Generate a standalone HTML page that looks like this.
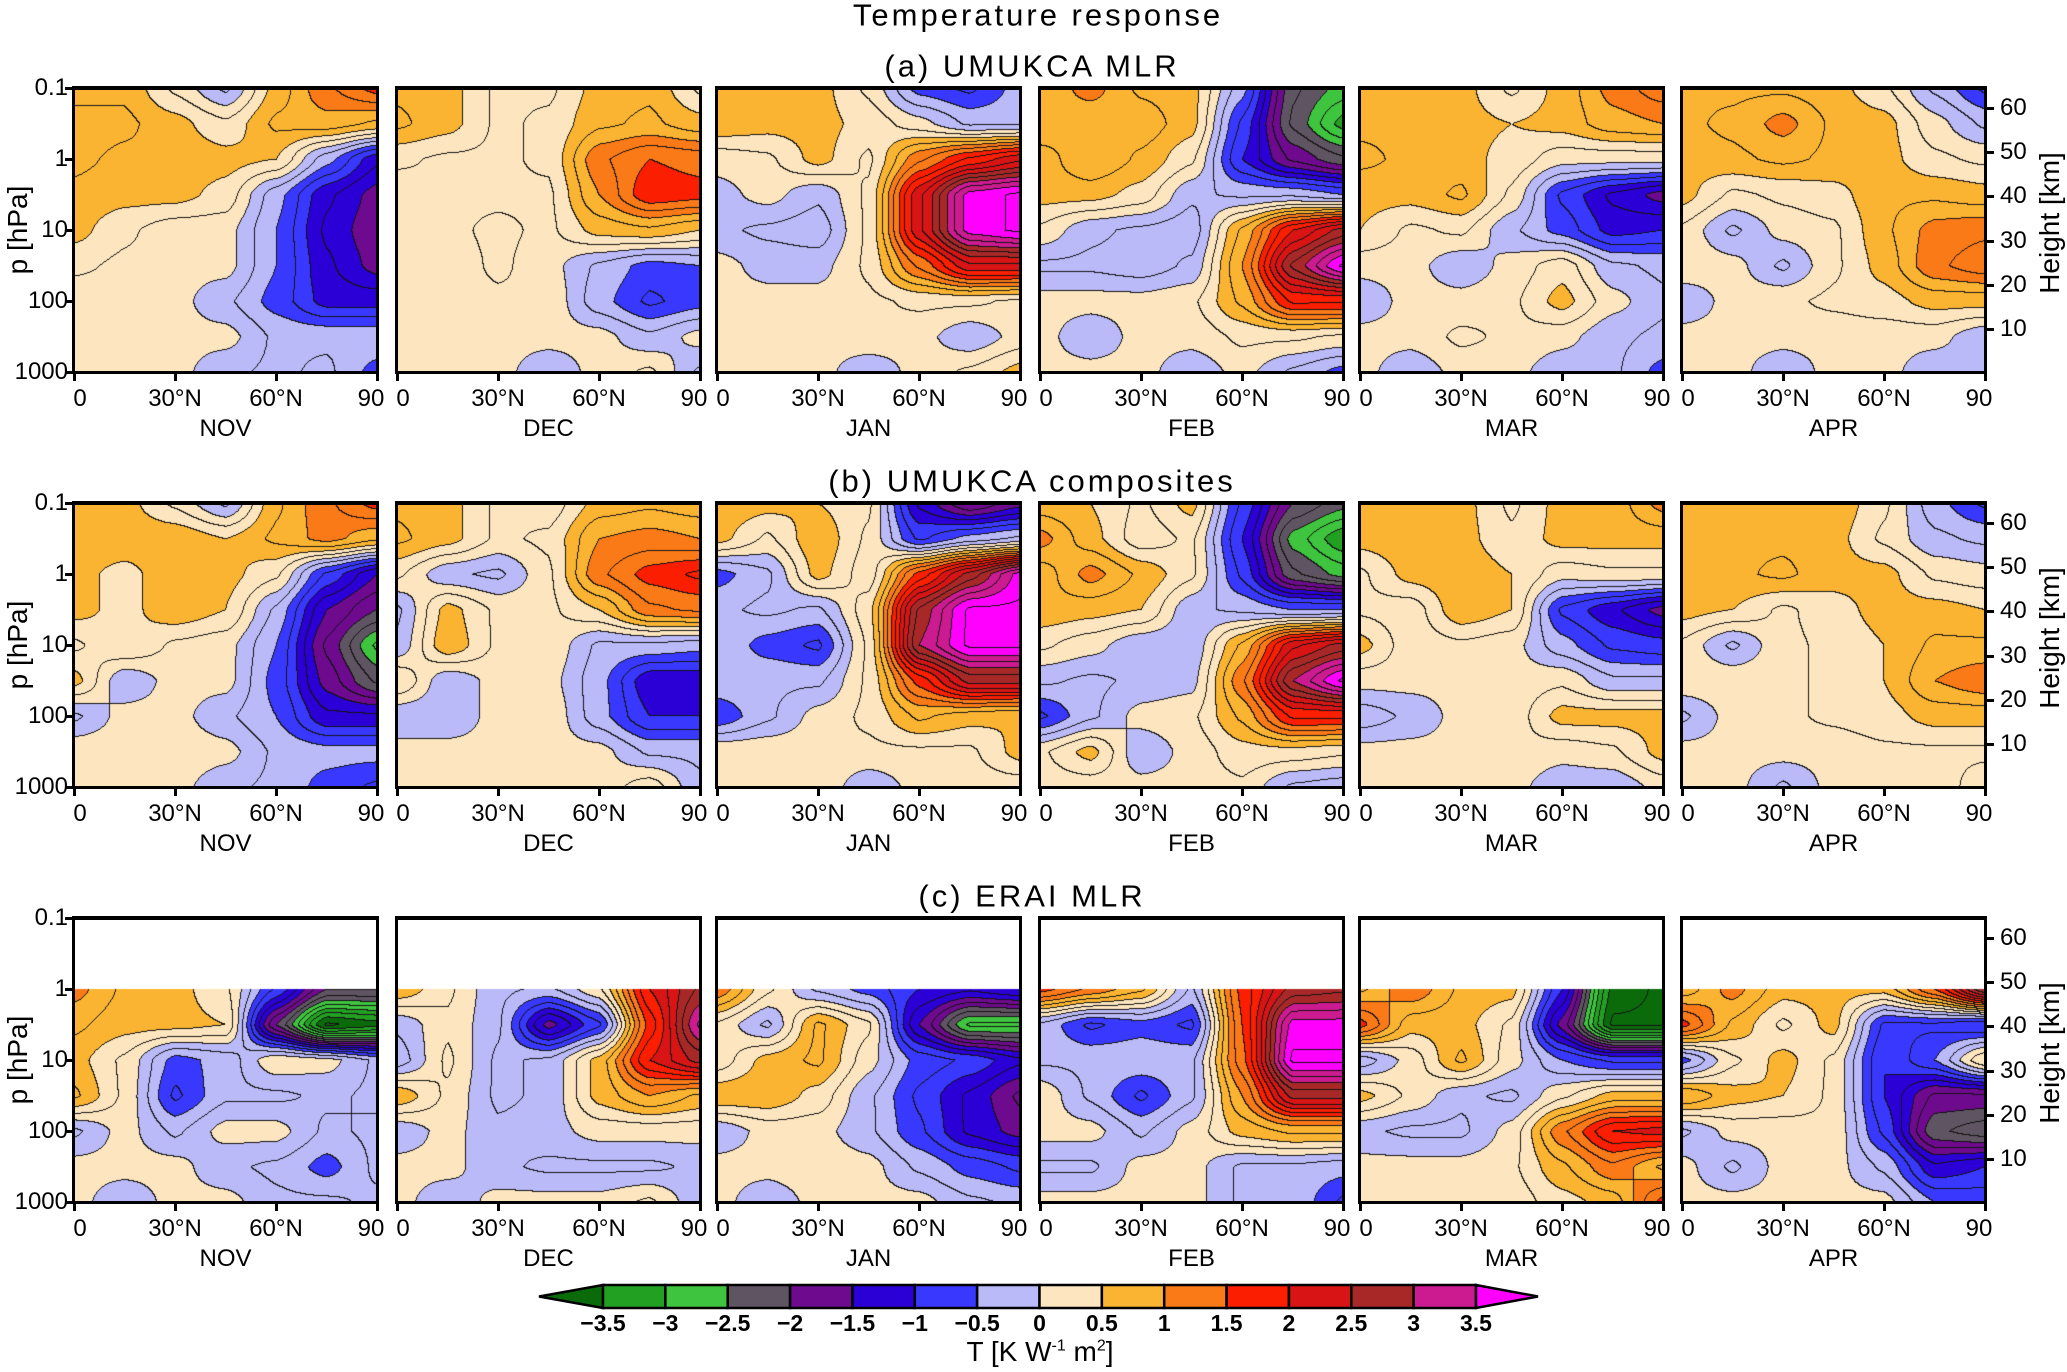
<!DOCTYPE html>
<html><head><meta charset="utf-8">
<style>
html,body{margin:0;padding:0;background:#fff;}
body{width:2067px;height:1372px;position:relative;overflow:hidden;font-family:"Liberation Sans",sans-serif;color:#000;}
.t{position:absolute;white-space:nowrap;line-height:1;}
canvas{position:absolute;}
.frame{position:absolute;border:3px solid #000;border-top-width:4px;box-sizing:border-box;}
.tick{position:absolute;background:#000;}
</style></head>
<body>
<div class="t" style="left:1038px;top:15px;transform:translate(-50%,-50%);font-size:31px;letter-spacing:3px;">Temperature response</div>
<div id="root"></div>
<svg id="cbar" width="2067" height="1372" style="position:absolute;left:0;top:0;pointer-events:none;"></svg>
<script>
// ---- data: 9 pressure rows (0.1..1000 hPa, half-decades) x 7 latitudes (0..90 N) ----
const months = ["NOV","DEC","JAN","FEB","MAR","APR"];
const rowTitles = ["(a) UMUKCA MLR","(b) UMUKCA composites","(c) ERAI MLR"];
const latitudes = [0,15,30,45,60,75,90];
const logPressures = [-1,-0.5,0,0.5,1,1.5,2,2.5,3];
const levels = [-3.5,-3,-2.5,-2,-1.5,-1,-0.5,0,0.5,1,1.5,2,2.5,3,3.5];
const levelColors = ["#0b6b0b","#22a022","#3ec43e","#5f5462","#6e0a8e","#2b00d6","#3838ff","#babaf8","#fde6bf","#fbb432","#fb7a18","#fb1e00","#d81414","#a82828","#cc1a90","#ff00ff"];
const leftTicks = ["0.1","1","10","100","1000"];
const heightTicks = [60,50,40,30,20,10];
const xTicks = ["0","30°N","60°N","90"];

const aNOV=[[0.6,0.7,0.2,-0.3,0.6,1.2,1.6],[0.9,0.8,0.6,0.3,0.8,0.9,0.7],[0.8,0.7,0.7,0.6,0.5,-0.4,-1.2],[0.7,0.6,0.6,0.4,-0.4,-1.2,-1.6],[0.6,0.3,0.1,0.1,-0.5,-1.3,-1.7],[0.3,0.2,0.1,0.1,-0.5,-1.2,-1.6],[0.1,0.1,0.1,-0.2,-0.6,-1.1,-1.1],[0.2,0.2,0.1,0.1,-0.3,-0.3,-0.3],[0.1,0.1,0.1,-0.2,-0.3,-0.2,-0.6]];
const aDEC=[[0.7,0.6,0.2,0.2,0.6,0.7,0.2],[0.8,0.6,0.2,0.3,0.7,0.8,0.6],[0.3,0.2,0.2,0.3,1.2,1.5,1.4],[0.1,0.2,0.2,0.2,1.0,1.7,1.6],[0.1,0.2,0.3,0.2,0.6,0.7,0.5],[0.1,0.1,0.3,0.1,-0.3,-0.6,-0.5],[0.1,0.1,0.2,0.2,-0.4,-0.8,-0.6],[0.1,0.1,0.1,0.1,0.1,-0.2,0.1],[0.1,0.1,0.1,-0.2,0.1,0.3,-0.3]];
const aJAN=[[0.7,0.7,0.6,0.2,-0.6,-0.8,-0.4],[0.7,0.6,0.6,0.4,0.1,-0.3,-0.3],[0.1,0.2,0.6,0.2,1.2,1.8,2.2],[-0.1,0.1,-0.2,0.3,2.2,3.6,3.8],[-0.2,-0.3,-0.4,0.3,2.2,3.6,3.8],[0.1,-0.1,-0.1,0.3,1.3,2.2,2.2],[0.1,0.1,0.1,0.2,0.3,0.3,0.2],[0.1,0.1,0.1,0.2,0.1,-0.2,0.1],[0.1,0.1,0.1,-0.2,0.1,0.3,0.6]];
const aFEB=[[0.8,1.1,0.7,0.6,-0.4,-2.2,-2.6],[1.0,0.8,0.9,0.6,-0.8,-2.3,-3.1],[0.6,1.0,0.7,0.3,-1.0,-1.8,-2.2],[0.6,0.6,0.4,-0.2,-0.3,-0.3,-0.5],[0.2,-0.2,-0.3,-0.4,0.8,2.0,2.6],[-0.3,-0.3,-0.4,-0.2,1.0,2.8,3.8],[0.1,0.1,0.1,0.2,0.8,1.8,1.8],[0.1,-0.2,0.1,0.1,0.3,0.3,0.2],[0.1,0.1,0.1,-0.2,0.1,-0.3,-0.6]];
const aMAR=[[0.6,0.6,0.6,0.2,0.6,1.1,1.4],[0.7,0.7,0.6,0.5,0.6,0.9,1.0],[0.8,0.7,0.6,0.4,0.1,0.1,0.1],[0.6,0.6,0.8,0.2,-0.8,-1.3,-1.6],[0.5,0.2,0.3,-0.2,-0.6,-1.1,-1.0],[0.1,0.1,-0.2,0.1,0.4,-0.2,-0.3],[-0.2,0.1,0.1,0.2,0.6,0.1,-0.2],[0.1,0.1,0.3,0.2,0.1,-0.2,-0.3],[0.1,-0.2,0.1,0.1,-0.2,-0.2,-0.6]];
const aAPR=[[0.7,0.7,0.7,0.6,0.3,-0.3,-0.8],[0.7,0.8,1.1,0.7,0.6,0.1,-0.3],[0.6,0.7,0.8,0.7,0.6,0.3,0.2],[0.6,0.2,0.3,0.4,0.7,0.7,0.6],[0.2,-0.3,0.1,0.2,0.7,1.1,1.2],[0.2,0.1,-0.3,0.2,0.6,1.2,1.4],[-0.2,0.1,0.2,0.3,0.4,0.6,0.6],[0.1,0.1,0.1,0.1,0.1,0.1,-0.2],[0.1,0.1,-0.2,0.1,0.1,-0.2,-0.2]];

const bNOV=[[0.6,0.6,0.2,-0.3,0.7,1.2,1.6],[0.7,0.7,0.7,0.5,0.8,1.1,0.8],[0.6,0.4,0.7,0.6,0.3,-0.8,-1.5],[0.6,0.4,0.7,0.5,-0.3,-1.5,-2.0],[0.2,0.5,0.2,0.1,-0.5,-1.8,-2.8],[0.6,-0.2,0.1,0.1,-0.6,-1.6,-2.3],[-0.3,0.1,0.1,-0.2,-0.5,-1.2,-1.2],[0.2,0.2,0.2,0.1,-0.3,-0.4,-0.4],[0.1,0.1,0.1,-0.2,-0.3,-0.6,-0.8]];
const bDEC=[[0.7,0.6,0.2,0.1,0.6,0.7,0.6],[0.8,0.6,0.2,0.3,1.0,1.1,1.0],[0.3,-0.2,-0.3,0.2,1.2,1.6,1.8],[-0.3,0.6,0.2,0.2,0.5,1.2,1.3],[-0.2,0.7,0.2,0.2,-0.3,-0.3,-0.4],[0.5,-0.2,0.1,0.1,-0.4,-1.2,-1.2],[-0.2,-0.2,0.1,0.2,-0.4,-1.0,-1.0],[0.1,0.1,0.1,0.1,0.1,-0.3,-0.3],[0.1,0.1,0.1,0.1,0.1,0.4,-0.2]];
const bJAN=[[0.7,0.6,0.5,0.3,-1.3,-2.0,-1.6],[0.6,0.2,0.7,0.2,-0.8,-0.4,-0.2],[-0.6,-0.3,0.6,0.1,1.6,2.6,3.6],[-0.3,-0.2,-0.3,0.4,2.8,3.8,3.8],[-0.3,-0.6,-0.8,0.3,3.0,3.8,3.8],[-0.3,-0.3,-0.3,0.3,1.6,2.6,2.6],[-0.7,-0.3,0.1,0.3,0.8,0.6,0.5],[0.2,0.2,0.2,0.2,0.2,0.2,0.6],[0.1,0.1,0.2,-0.2,0.1,0.1,0.1]];
const bFEB=[[0.6,0.5,0.2,0.6,-0.8,-2.0,-2.4],[1.1,0.6,0.1,0.3,-1.0,-2.6,-3.2],[0.6,1.1,0.7,0.3,-0.8,-2.2,-2.6],[0.7,0.6,0.5,-0.2,-0.3,-0.5,-0.5],[0.3,0.1,-0.2,-0.2,0.8,2.2,2.6],[-0.2,-0.3,-0.2,-0.1,1.2,3.0,3.8],[-0.8,-0.3,0.1,0.2,0.8,1.8,1.8],[0.2,0.6,-0.2,0.1,0.4,0.4,0.3],[0.1,0.1,0.1,0.1,0.2,-0.3,-0.4]];
const bMAR=[[0.7,0.6,0.6,0.2,0.6,0.6,1.1],[0.6,0.7,0.6,0.3,0.6,0.6,0.6],[0.2,0.6,0.7,0.5,0.1,0.2,0.2],[0.2,0.1,0.7,0.5,-0.8,-1.2,-1.6],[0.6,0.1,0.2,0.1,-0.4,-0.8,-0.9],[0.1,0.1,0.1,0.1,0.2,-0.2,-0.2],[-0.4,-0.2,0.1,0.1,0.6,0.6,0.6],[0.1,0.1,0.1,0.2,0.1,0.2,0.6],[0.1,0.1,0.1,0.1,-0.2,-0.2,0.1]];
const bAPR=[[0.6,0.7,0.7,0.7,0.3,-0.4,-0.8],[0.6,0.7,0.7,0.6,0.2,-0.2,-0.3],[0.7,0.7,0.8,0.6,0.6,0.2,0.1],[0.6,0.5,0.2,0.4,0.6,0.6,0.5],[0.2,-0.3,0.2,0.3,0.5,0.8,0.8],[0.2,0.2,0.2,0.3,0.5,1.0,1.2],[-0.3,0.1,0.2,0.3,0.4,0.6,0.6],[0.1,0.1,0.1,0.1,0.2,0.2,0.2],[0.1,0.1,-0.3,0.1,0.1,0.1,0.4]];

const cNOV=[null,null,[1.1,0.7,0.6,0.3,-0.8,-2.0,-2.0],[0.8,0.6,0.6,0.5,-2.0,-3.8,-3.6],[0.6,0.2,-0.6,-0.4,0.2,0.1,-0.3],[0.8,0.2,-0.8,-0.3,-0.3,-0.2,-0.3],[-0.3,0.1,-0.3,0.1,0.1,-0.3,-0.2],[0.1,0.1,0.1,-0.2,-0.3,-0.6,-0.2],[0.1,-0.2,0.1,0.1,-0.2,-0.2,-0.3]];
const cDEC=[null,null,[0.7,0.3,-0.2,-0.3,0.2,2.0,2.8],[-0.2,0.2,-0.2,-1.6,-0.8,1.6,3.3],[-0.4,0.3,-0.3,-0.2,0.6,2.0,2.6],[0.7,0.2,-0.3,-0.2,0.6,1.0,0.7],[-0.2,0.1,-0.2,-0.1,0.1,0.1,0.1],[0.1,0.1,-0.2,-0.3,-0.3,-0.3,-0.2],[0.1,-0.2,0.1,0.1,0.1,0.3,-0.2]];
const cJAN=[null,null,[1.2,0.3,-0.3,-0.6,-1.0,-1.2,-1.0],[0.2,-0.3,0.8,0.3,-1.5,-2.8,-2.8],[0.1,0.6,0.8,0.1,-0.6,-0.8,-1.2],[0.7,0.7,0.4,-0.2,-0.8,-1.3,-1.8],[-0.2,0.1,0.1,-0.2,-0.7,-1.3,-1.6],[0.1,0.1,0.2,0.1,-0.3,-0.6,-0.8],[0.1,-0.2,0.1,0.1,0.1,-0.2,-0.3]];
const cFEB=[null,null,[1.6,1.2,0.8,-0.3,1.6,2.6,2.7],[-0.3,-0.8,-0.6,-0.8,1.5,3.6,3.6],[-0.3,-0.3,-0.3,-0.3,1.4,3.8,3.8],[0.2,-0.3,-0.8,-0.3,1.0,2.6,2.6],[0.1,0.1,-0.3,0.1,0.6,0.8,0.8],[-0.3,-0.3,0.1,0.1,-0.3,-0.3,-0.4],[0.1,0.1,0.1,0.1,-0.3,-0.3,-0.8]];
const cMAR=[null,null,[0.7,1.2,0.7,0.6,-1.0,-3.6,-3.8],[1.6,0.6,0.6,0.2,-1.6,-3.8,-3.8],[-0.4,0.1,0.8,0.1,-0.5,-0.8,-0.8],[0.6,0.2,-0.2,-0.3,0.2,0.6,0.6],[-0.2,-0.3,-0.3,0.1,1.2,2.0,2.1],[0.1,0.1,0.1,0.2,0.7,1.2,0.7],[0.1,0.1,0.1,0.1,0.4,0.6,1.6]];
const cAPR=[null,null,[0.6,1.1,0.6,0.6,0.6,1.5,3.0],[1.6,0.7,0.2,0.6,-0.8,-0.8,-1.0],[-0.6,0.2,0.6,0.2,-1.0,-0.5,0.5],[1.0,0.6,0.5,0.2,-1.0,-1.8,-1.8],[-0.3,0.1,0.1,0.2,-0.8,-2.2,-2.4],[0.1,-0.3,0.1,0.1,-0.3,-1.2,-1.0],[0.1,0.1,0.1,0.1,0.1,-0.5,-0.6]];

const panelData=[[aNOV,aDEC,aJAN,aFEB,aMAR,aAPR],[bNOV,bDEC,bJAN,bFEB,bMAR,bAPR],[cNOV,cDEC,cJAN,cFEB,cMAR,cAPR]];

// ---- layout ----
const PX=[74,397,717,1040,1360,1682], PW=303, PH=284;
const RY=[88,503,918];
const TITLE_Y=[66,481,896];
const root=document.getElementById('root');
function xScale(lat){return lat/90*PW;}
function yScale(lp){return (lp+1)/4*PH;}
function binOf(v){let b=0;for(let i=0;i<levels.length;i++){if(v>=levels[i])b=i+1;}return b;}
function sample(d,lat,lp){
  let fc=lat/15, fr=(lp+1)/0.5;
  let c0=Math.max(0,Math.min(5,Math.floor(fc))), r0=Math.max(0,Math.min(7,Math.floor(fr)));
  let tx=fc-c0, ty=fr-r0;
  let sx=tx*tx*(3-2*tx), sy=ty*ty*(3-2*ty);
  sx=0.5*sx+0.5*tx; sy=0.5*sy+0.5*ty;
  let ra=d[r0], rb=d[r0+1];
  if(!ra) ra=rb; if(!rb) rb=ra;
  let a=ra[c0]*(1-sx)+ra[c0+1]*sx, b=rb[c0]*(1-sx)+rb[c0+1]*sx;
  return a*(1-sy)+b*sy;
}
function txt(s,x,y,size,name,extra){
  const e=document.createElement('div');
  e.className='t'; e.textContent=s;
  e.style.left=x+'px'; e.style.top=y+'px'; e.style.fontSize=size+'px';
  e.style.transform=extra||'translate(-50%,-50%)';
  
  
  root.appendChild(e); return e;
}
function tick(x,y,w,h,name){
  const e=document.createElement('div'); e.className='tick';
  e.style.left=x+'px'; e.style.top=y+'px'; e.style.width=w+'px'; e.style.height=h+'px';
  
  
  root.appendChild(e);
}
for(let r=0;r<3;r++){
  txt(rowTitles[r],1032,TITLE_Y[r],31,'row-title','translate(-50%,-50%)').style.letterSpacing='3px';
  for(let m=0;m<6;m++){
    const d=panelData[r][m], x0=PX[m], y0=RY[r];
    const cv=document.createElement('canvas');
    cv.width=PW; cv.height=PH; cv.style.left=x0+'px'; cv.style.top=y0+'px';
    
    
    root.appendChild(cv);
    const ctx=cv.getContext('2d');
    const img=ctx.createImageData(PW,PH);
    const bins=new Int16Array(PW*PH).fill(-1);
    const cl=new Int16Array(PW*PH).fill(-999);
    const yTop = d[0]? 0 : Math.round(yScale(0));
    for(let py=yTop;py<PH;py++){
      const lp=py/PH*4-1;
      for(let px=0;px<PW;px++){
        const v=sample(d,px/PW*90,lp);
        bins[py*PW+px]=binOf(v);
        cl[py*PW+px]=Math.floor(v*4);
      }
    }
    const rgb=levelColors.map(h=>[parseInt(h.slice(1,3),16),parseInt(h.slice(3,5),16),parseInt(h.slice(5,7),16)]);
    for(let py=0;py<PH;py++)for(let px=0;px<PW;px++){
      const i=py*PW+px, b=bins[i], o=i*4;
      let c=[255,255,255];
      if(b>=0){
        c=rgb[b];
        const k=cl[i];
        const kr=px+1<PW?cl[i+1]:k, kd=py+1<PH?cl[i+PW]:k;
        if((kr!==k&&kr>-999)||(kd!==k&&kd>-999)) c=[20,20,20];
      }
      img.data[o]=c[0];img.data[o+1]=c[1];img.data[o+2]=c[2];img.data[o+3]=255;
    }
    ctx.putImageData(img,0,0);
    const f=document.createElement('div'); f.className='frame';
    f.style.left=(x0-2)+'px'; f.style.top=(y0-2)+'px'; f.style.width=(PW+4)+'px'; f.style.height=(PH+4)+'px';
    
    
    root.appendChild(f);
    for(let k=0;k<4;k++){
      const tx=x0+xScale(k*30);
      tick(tx-1,y0+PH,3,9,'x-tick');
      txt(xTicks[k],tx+(k===0?6:(k===3?-6:0)),y0+PH+27,24,'x-tick-label');
    }
    txt(months[m],x0+PW/2,y0+PH+57,24,'month-label');
    if(m===0){
      for(let k=0;k<5;k++){
        const ty=y0+yScale(-1+k);
        tick(x0-9,ty-1,9,3,'y-tick');
        txt(leftTicks[k],x0-6,ty,24,'y-tick-label','translate(-100%,-50%)');
      }
      txt('p  [hPa]',18,y0+PH/2,28,'y-axis-title','translate(-50%,-50%) rotate(-90deg)');
    }
    if(m===5){
      for(let k=0;k<heightTicks.length;k++){
        const ty=y0+20+(60-heightTicks[k])*(221/50);
        tick(x0+PW,ty-1,9,3,'height-tick');
        txt(String(heightTicks[k]),x0+PW+15,ty,24,'height-tick-label','translate(0,-50%)');
      }
      txt('Height [km]',2050,y0+135,28,'height-axis-title','translate(-50%,-50%) rotate(-90deg)');
    }
  }
}
// ---- colorbar ----
const svg=document.getElementById('cbar');
const NS='http://www.w3.org/2000/svg';
const CB0=603, CB1=1476, CBT=1285, CBB=1308, CBW=(CB1-CB0)/14;
function cx(v){return CB0+(v-levels[0])/(levels[14]-levels[0])*(CB1-CB0);}
for(let i=0;i<16;i++){
  let el;
  if(i===0){el=document.createElementNS(NS,'polygon');el.setAttribute('points',`${cx(levels[0])},${CBT} ${cx(levels[0])},${CBB} 539,${(CBT+CBB)/2}`);}
  else if(i===15){el=document.createElementNS(NS,'polygon');el.setAttribute('points',`${cx(levels[14])},${CBT} ${cx(levels[14])},${CBB} 1538,${(CBT+CBB)/2}`);}
  else{el=document.createElementNS(NS,'rect');el.setAttribute('x',cx(levels[i-1]));el.setAttribute('y',CBT);el.setAttribute('width',CBW);el.setAttribute('height',CBB-CBT);}
  el.setAttribute('fill',levelColors[i]);el.setAttribute('stroke','#000');el.setAttribute('stroke-width','2.5');
  
  
  svg.appendChild(el);
}
for(let i=0;i<levels.length;i++){
  const t=document.createElementNS(NS,'text');
  t.setAttribute('x',cx(levels[i]));t.setAttribute('y',1331);t.setAttribute('text-anchor','middle');
  t.setAttribute('font-size','23');t.setAttribute('font-weight','bold');t.setAttribute('font-family','Liberation Sans, sans-serif');
  t.textContent=String(levels[i]).replace('-','\u2212');
  
  
  svg.appendChild(t);
}
</script>
<div class="t" style="left:1040px;top:1352px;transform:translate(-50%,-50%);font-size:28px;">T [K W<sup style="font-size:16px">-1</sup> m<sup style="font-size:16px">2</sup>]</div>
</body></html>
